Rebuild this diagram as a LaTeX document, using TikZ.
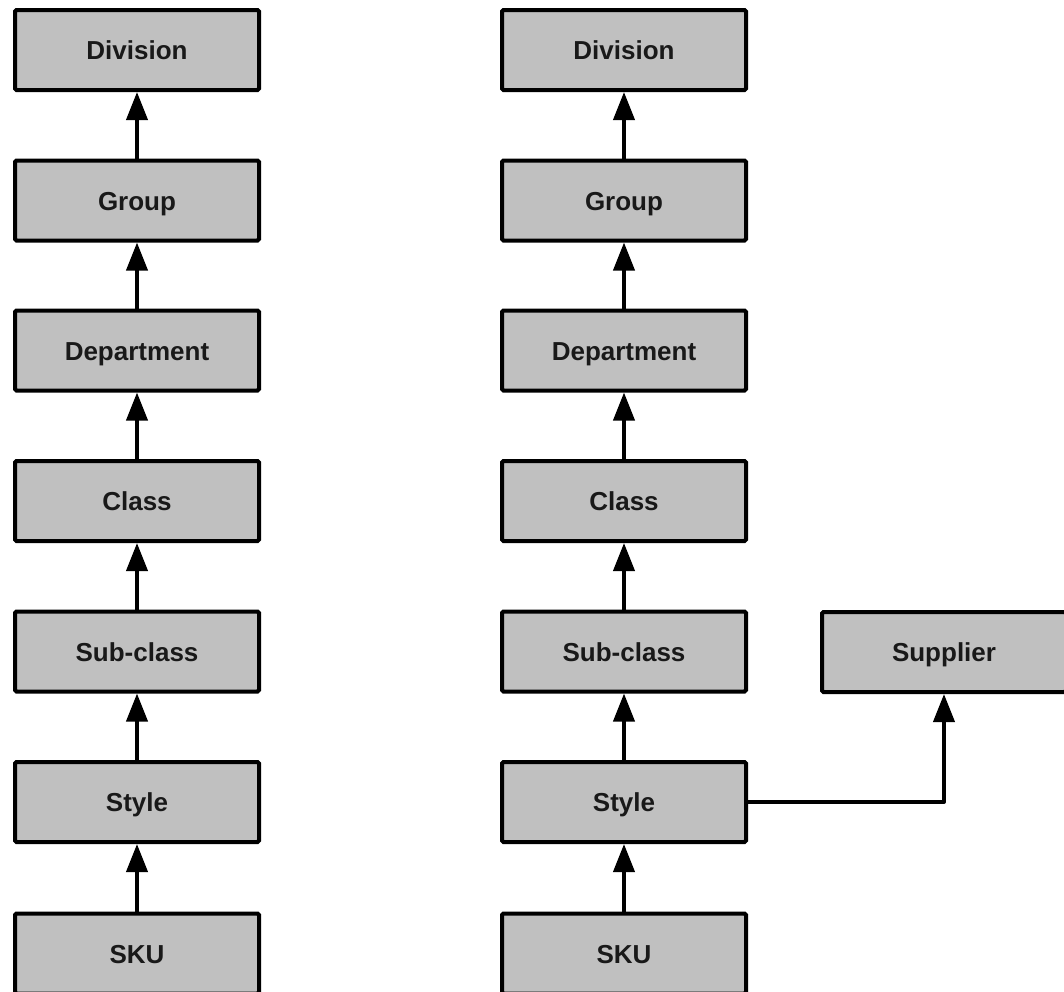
\documentclass[tikz,border=0pt]{standalone}
\usepackage{fontspec}
\setmainfont{Liberation Sans}
\usetikzlibrary{arrows.meta}
\definecolor{boxgray}{RGB}{192,192,192}
\definecolor{textdark}{RGB}{25,25,25}
\begin{document}
\begin{tikzpicture}[x=1pt,y=-1pt,
  box/.style={draw=black, line width=4pt, fill=boxgray, minimum width=244pt,
    minimum height=80pt, inner sep=0pt, rounded corners=1.5pt,
    text height=19pt, text depth=0pt,
    font=\fontsize{26}{30}\selectfont\bfseries, text=textdark},
  conn/.style={line width=4pt, draw=black, -{Triangle[width=21pt,length=28pt]}}]
\useasboundingbox (0,0) rectangle (1064,991);
% left column
\node[box] (l1) at (137,50) {Division};
\node[box] (l2) at (137,200.5) {Group};
\node[box] (l3) at (137,350.5) {Department};
\node[box] (l4) at (137,501) {Class};
\node[box] (l5) at (137,651.5) {Sub-class};
\node[box] (l6) at (137,802) {Style};
\node[box] (l7) at (137,953.5) {SKU};
% right column
\node[box] (r1) at (624,50) {Division};
\node[box] (r2) at (624,200.5) {Group};
\node[box] (r3) at (624,350.5) {Department};
\node[box] (r4) at (624,501) {Class};
\node[box] (r5) at (624,651.5) {Sub-class};
\node[box] (r6) at (624,802) {Style};
\node[box] (r7) at (624,953.5) {SKU};
\node[box] (sup) at (944,652) {Supplier};
% connectors
\foreach \a/\b in {l2/l1,l3/l2,l4/l3,l5/l4,l6/l5,l7/l6,r2/r1,r3/r2,r4/r3,r5/r4,r6/r5,r7/r6}
  \draw[conn] (\a.north) -- (\b.south);
\draw[conn, line join=round] (r6.east) -| (sup.south);
\end{tikzpicture}
\end{document}
